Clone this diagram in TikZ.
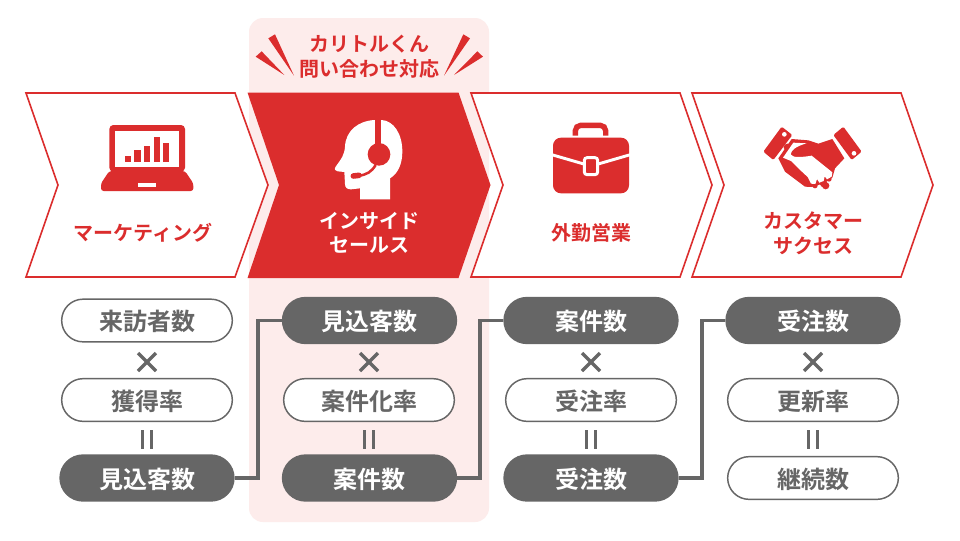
\documentclass[tikz,border=0pt]{standalone}
\usepackage{fontspec}
\setmainfont{Noto Sans CJK JP}[BoldFont={Noto Sans CJK JP Bold}]
\usetikzlibrary{shapes.misc}
\definecolor{brand}{HTML}{DB2D2D}
\definecolor{ink}{HTML}{666666}
\definecolor{blush}{HTML}{FDECEB}
\tikzset{
  chev/.style={draw=brand,fill=white,line width=1.2pt,line join=miter},
  lab/.style={text=brand,font=\bfseries\fontsize{15}{18.5}\selectfont,align=center,inner sep=0pt},
  pillbase/.style={rounded rectangle,inner sep=0pt,font=\bfseries\fontsize{18}{22}\selectfont,text height=16pt,text depth=1pt},
  lightpill/.style={pillbase,draw=ink,fill=white,text=ink,line width=1.1pt,minimum width=128pt,minimum height=32pt},
  darkpill/.style={pillbase,fill=ink,text=white,minimum width=131.5pt,minimum height=35.5pt},
  link/.style={draw=ink,line width=2.4pt,line join=miter},
  opmark/.style={draw=ink,line width=2.6pt},
  icon/.style={x=0.25pt,y=-0.25pt}
}
\begin{document}
\begin{tikzpicture}[x=0.75pt,y=-0.75pt]
\useasboundingbox (0,0) rectangle (960,540);
\fill[white] (0,0) rectangle (960,540);
\fill[blush,rounded corners=10.5pt] (249,18) rectangle (489,522);
% chevrons
\path[chev] (26,93) -- (235,93) -- (268,185) -- (235,277) -- (26,277) -- (58,185) -- cycle;
\path[chev] (471,93) -- (680,93) -- (712,185) -- (680,277) -- (471,277) -- (503,185) -- cycle;
\path[chev] (692,93) -- (901,93) -- (933,185) -- (901,277) -- (692,277) -- (724,185) -- cycle;
\fill[brand] (247.5,92.5) -- (458.5,92.5) -- (490.5,185) -- (458.5,278) -- (247.5,278) -- (279,185) -- cycle;
% title + bursts
\node[lab] (title) at (369,56.5) {カリトルくん\\問い合わせ対応};
\begin{scope}[shift={(240,10)},icon]
\fill[brand] (85,85) -- (105,73) -- (162,197) -- cycle;
\fill[brand] (47,140) -- (65,124) -- (133,195) -- cycle;
\fill[brand] (690,85) -- (670,73) -- (612,197) -- cycle;
\fill[brand] (729,140) -- (712,124) -- (642,195) -- cycle;
\end{scope}
% labels
\node[lab] (l1) at (143,233) {マーケティング};
\node[lab,text=white] (l2) at (369,233) {インサイド\\セールス};
\node[lab] (l3) at (591,233) {外勤営業};
\node[lab] (l4) at (813,233) {カスタマー\\サクセス};
% laptop
\begin{scope}[shift={(95,115)},icon]
\fill[brand,rounded corners=3pt] (43,170) -- (43,30) -- (270,30) -- (270,170) -- cycle;
\fill[white] (60,47) rectangle (252,155);
\fill[brand,rounded corners=2pt] (43,168) -- (270,168) -- (295,205) -- (295,228) -- (18,228) -- (18,205) -- cycle;
\fill[white] (130,205) rectangle (183,217);
\fill[brand] (90,142) rectangle (108,123);
\fill[brand] (118,142) rectangle (137,104);
\fill[brand] (147,142) rectangle (166,94);
\fill[brand] (176,142) rectangle (195,66);
\fill[brand] (205,142) rectangle (223,85);
\end{scope}
% headset
\begin{scope}[shift={(325,110)},icon]
\fill[white] (150,30) .. controls (100,32) and (62,62) .. (60,110)
  .. controls (58,135) and (50,145) .. (32,170)
  .. controls (27,178) and (30,183) .. (38,184)
  -- (58,186) -- (60,222)
  .. controls (60,234) and (68,238) .. (78,238)
  -- (105,235) -- (105,268) -- (195,268) -- (195,205)
  .. controls (220,190) and (232,160) .. (232,125)
  .. controls (232,70) and (205,32) .. (170,30) -- cycle;
\fill[brand] (151,25) rectangle (169,110);
\fill[brand] (162,133) circle[radius=34];
\draw[brand,line width=1.9pt] (152,165) .. controls (140,185) and (125,195) .. (100,197);
\draw[brand,line width=4.2pt,line cap=round] (85,198) -- (102,196);
\end{scope}
% briefcase
\begin{scope}[shift={(545,115)},icon]
\draw[brand,line width=4pt,rounded corners=4pt] (91,62) -- (91,31) -- (182,31) -- (182,62);
\fill[brand,rounded corners=6pt] (24,68) rectangle (252,235);
\draw[white,line width=2.2pt] (20,119) -- (120,148);
\draw[white,line width=2.2pt] (156,148) -- (256,119);
\draw[white,fill=brand,line width=2.2pt,rounded corners=2pt] (118,128) rectangle (158,179);
\end{scope}
% handshake
\begin{scope}[shift={(755,115)},icon]
\fill[brand,rounded corners=1pt] (80,35) -- (112,60) -- (55,135) -- (25,110) -- cycle;
\fill[white] (88,58) circle[radius=7];
\fill[brand,rounded corners=1pt] (265,35) -- (320,110) -- (290,135) -- (235,60) -- cycle;
\fill[white] (297,115) circle[radius=7];
% silhouette
\fill[brand] (110,72) -- (160,76) -- (190,86) -- (232,72) -- (268,130) -- (240,160)
  -- (232,188) -- (210,203) -- (190,210) -- (170,216) -- (150,215) -- (90,170) -- (70,130) -- cycle;
\foreach \cx/\cy in {97,157, 108,170, 120,182, 132,195, 147,206, 162,212}
  \fill[brand] (\cx,\cy) circle[radius=11];
\fill[brand] (180,212) circle[radius=8];
\fill[brand] (202,204) circle[radius=8];
\fill[brand] (222,192) circle[radius=8];
% white hand
\fill[white] (115,83) -- (155,85) .. controls (125,93) and (108,105) .. (107,118)
  .. controls (112,130) and (145,126) .. (170,122)
  -- (232,172) -- (230,185) -- (216,193) -- (209,184) -- (206,198) -- (193,203)
  -- (186,192) -- (181,207) -- (168,206) -- (158,186) -- (130,160) -- (108,138) -- (84,128) -- cycle;
\end{scope}
% pills
\node[lightpill] (a1) at (147,320.5) {来訪者数};
\node[lightpill] (a2) at (147,400) {獲得率};
\node[darkpill]  (a3) at (147,478) {見込客数};
\node[darkpill]  (b1) at (369.5,320.5) {見込客数};
\node[lightpill] (b2) at (369,400) {案件化率};
\node[darkpill]  (b3) at (369.5,478) {案件数};
\node[darkpill]  (c1) at (591,320.5) {案件数};
\node[lightpill] (c2) at (591,400) {受注率};
\node[darkpill]  (c3) at (591,478) {受注数};
\node[darkpill]  (d1) at (813,320.5) {受注数};
\node[lightpill] (d2) at (813,400) {更新率};
\node[lightpill] (d3) at (813,478) {継続数};
% connectors
\coordinate (e1) at (258,478);
\coordinate (e2) at (480,478);
\coordinate (e3) at (702,478);
\draw[link] (a3.east) -- (e1) |- (b1.west);
\draw[link] (b3.east) -- (e2) |- (c1.west);
\draw[link] (c3.east) -- (e3) |- (d1.west);
% operators
\foreach \cx in {147,369,591,813}{
  \draw[opmark] (\cx-9,353) -- (\cx+9,371);
  \draw[opmark] (\cx-9,371) -- (\cx+9,353);
  \draw[opmark] (\cx-4.5,430) -- (\cx-4.5,449);
  \draw[opmark] (\cx+4.5,430) -- (\cx+4.5,449);
}
\end{tikzpicture}
\end{document}
